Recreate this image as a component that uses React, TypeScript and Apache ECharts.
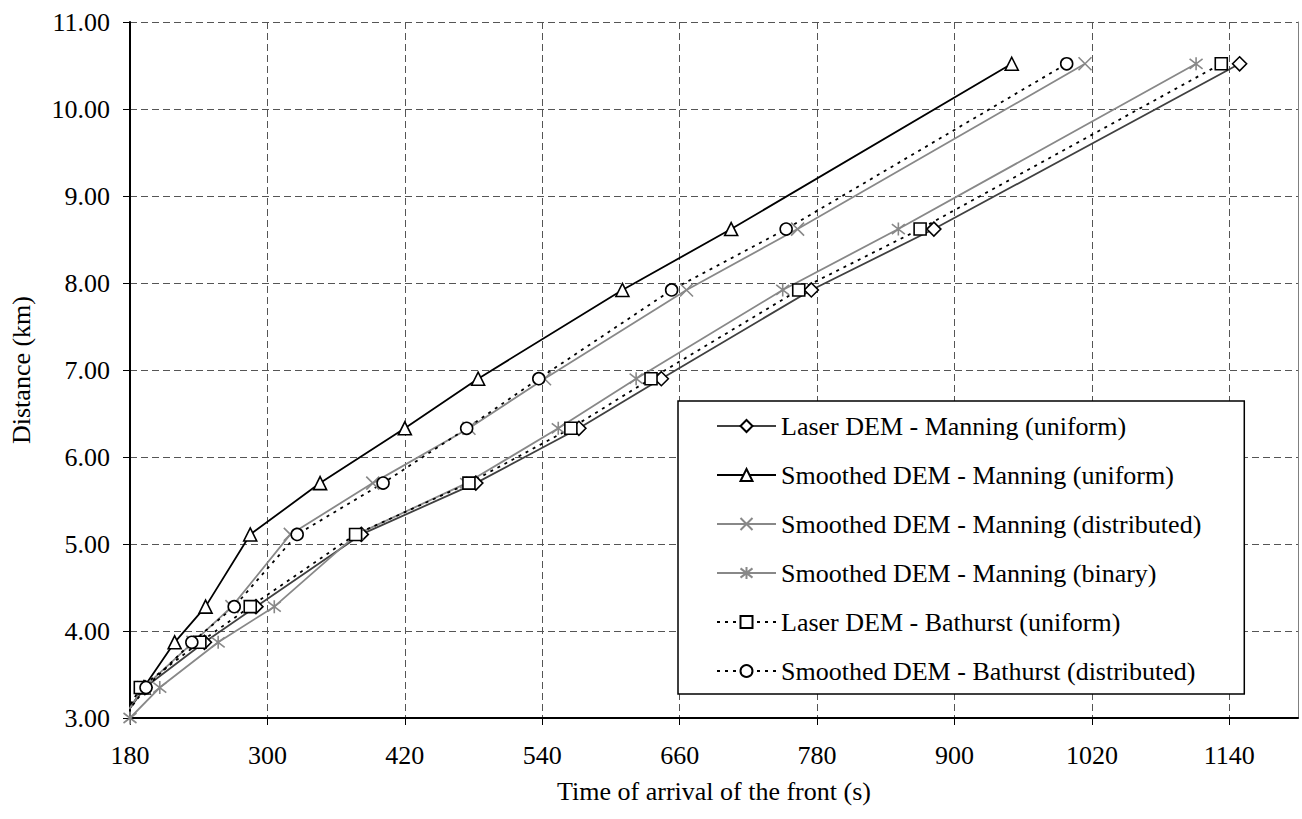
import React, { useEffect, useRef } from "react";
import * as echarts from "echarts";

const FONT = "Liberation Serif";

// Distance (km) of the front at each recorded point
const distances = [3.0, 3.35, 3.87, 4.28, 5.11, 5.7, 6.33, 6.9, 7.92, 8.62, 10.52];

// Time of arrival (s) for each simulation
const laserManningUniform = [174, 193, 245, 290, 382, 482, 572, 644, 775, 882, 1149];
const smoothedManningUniform = [174, 192, 219, 246, 285, 346, 420, 484, 610, 705, 950];
const smoothedManningDistributed = [174, 192, 235, 269, 320, 392, 476, 542, 666, 763, 1014];
const smoothedManningBinary = [180, 206, 257, 306, 378, 474, 554, 622, 750, 851, 1111];
const laserBathurstUniform = [174, 189, 241, 285, 377, 476, 565, 635, 764, 870, 1133];
const smoothedBathurstDistributed = [174, 194, 234, 271, 326, 401, 474, 537, 653, 753, 998];

const seriesNames = [
  "Laser DEM - Manning (uniform)",
  "Smoothed DEM - Manning (uniform)",
  "Smoothed DEM - Manning (distributed)",
  "Smoothed DEM - Manning (binary)",
  "Laser DEM - Bathurst (uniform)",
  "Smoothed DEM - Bathurst (distributed)",
];

const xAxisName = "Time of arrival of the front (s)";
const yAxisName = "Distance (km)";

const X_SYMBOL = "path://M0,0L10,10M10,0L0,10";
const STAR_SYMBOL = "path://M0,0L10,10M10,0L0,10M5,-1.5L5,11.5";

export default function App() {
  const ref = useRef<HTMLDivElement>(null);

  useEffect(() => {
    if (!ref.current) return;
    const chart = echarts.init(ref.current, null, { renderer: "svg" });

    const pts = (times: number[]) => times.map((t, i) => [t, distances[i]]);

    const styles = [
      { data: laserManningUniform, symbol: "diamond", size: 14, line: "#404040", type: "solid", mark: "#000", fill: "#fff" },
      { data: smoothedManningUniform, symbol: "triangle", size: 13, line: "#000", type: "solid", mark: "#000", fill: "#fff" },
      { data: smoothedManningDistributed, symbol: X_SYMBOL, size: 13, line: "#888", type: "solid", mark: "#888", fill: "#888" },
      { data: smoothedManningBinary, symbol: STAR_SYMBOL, size: 13, line: "#888", type: "solid", mark: "#888", fill: "#888" },
      { data: laserBathurstUniform, symbol: "rect", size: 12, line: "#000", type: [3, 5], mark: "#000", fill: "#fff" },
      { data: smoothedBathurstDistributed, symbol: "circle", size: 12, line: "#000", type: [3, 5], mark: "#000", fill: "#fff" },
    ];

    const series = styles.map((s, i) => ({
      name: seriesNames[i],
      type: "line",
      data: pts(s.data),
      symbol: s.symbol,
      symbolSize: s.size,
      showAllSymbol: true,
      clip: true,
      lineStyle: { color: s.line, width: 1.8, type: s.type as any },
      itemStyle: { color: s.fill, borderColor: s.mark, borderWidth: 1.6 },
      emphasis: { disabled: true },
      z: 3,
    }));

    chart.setOption({
      animation: false,
      backgroundColor: "#fff",
      textStyle: { fontFamily: FONT },
      grid: { left: 127, right: 4, top: 22, bottom: 101, containLabel: false },
      xAxis: {
        type: "value",
        min: 180,
        max: 1200,
        interval: 120,
        name: xAxisName,
        nameLocation: "middle",
        nameGap: 60,
        nameTextStyle: { fontSize: 26, fontFamily: FONT, color: "#000" },
        axisLine: { show: true, onZero: false, lineStyle: { color: "#000", width: 2 } },
        axisTick: { show: true, inside: false, length: 7, lineStyle: { color: "#000", width: 1 } },
        axisLabel: {
          fontSize: 26,
          fontFamily: FONT,
          color: "#000",
          margin: 24,
          showMaxLabel: false,
          formatter: (v: number) => String(Math.round(v)),
        },
        splitLine: { show: true, lineStyle: { color: "#555", width: 1, type: [7, 4] } },
      },
      yAxis: [
        {
          type: "value",
          min: 3,
          max: 11,
          interval: 1,
          name: yAxisName,
          nameLocation: "middle",
          nameGap: 96,
          nameTextStyle: { fontSize: 26, fontFamily: FONT, color: "#000" },
          axisLine: { show: true, onZero: false, lineStyle: { color: "#000", width: 2 } },
          axisTick: { show: true, inside: false, length: 7, lineStyle: { color: "#000", width: 1 } },
          axisLabel: {
            fontSize: 26,
            fontFamily: FONT,
            color: "#000",
            margin: 20,
            formatter: (v: number) => v.toFixed(2),
          },
          splitLine: { show: true, lineStyle: { color: "#555", width: 1, type: [7, 4] } },
        },
        {
          type: "value",
          min: 3,
          max: 11,
          interval: 1,
          position: "right",
          axisLine: { show: true, onZero: false, lineStyle: { color: "#808080", width: 1 } },
          axisTick: { show: false },
          axisLabel: { show: false },
          splitLine: { show: false },
        },
      ],
      legend: {
        orient: "vertical",
        left: 678,
        top: 401,
        padding: [12, 43, 10, 38],
        itemWidth: 59,
        itemHeight: 15,
        itemGap: 23,
        itemTextGap: 7,
        backgroundColor: "#fff",
        borderColor: "#000",
        borderWidth: 1.5,
        borderRadius: 0,
        selectedMode: false,
        textStyle: { fontSize: 26, fontFamily: FONT, color: "#000" },
        data: seriesNames,
      },
      series,
    });

    return () => chart.dispose();
  }, []);

  return (
    <div
      ref={ref}
      style={{ position: "fixed", left: 0, top: 0, width: 1302, height: 819, background: "#fff" }}
    />
  );
}
